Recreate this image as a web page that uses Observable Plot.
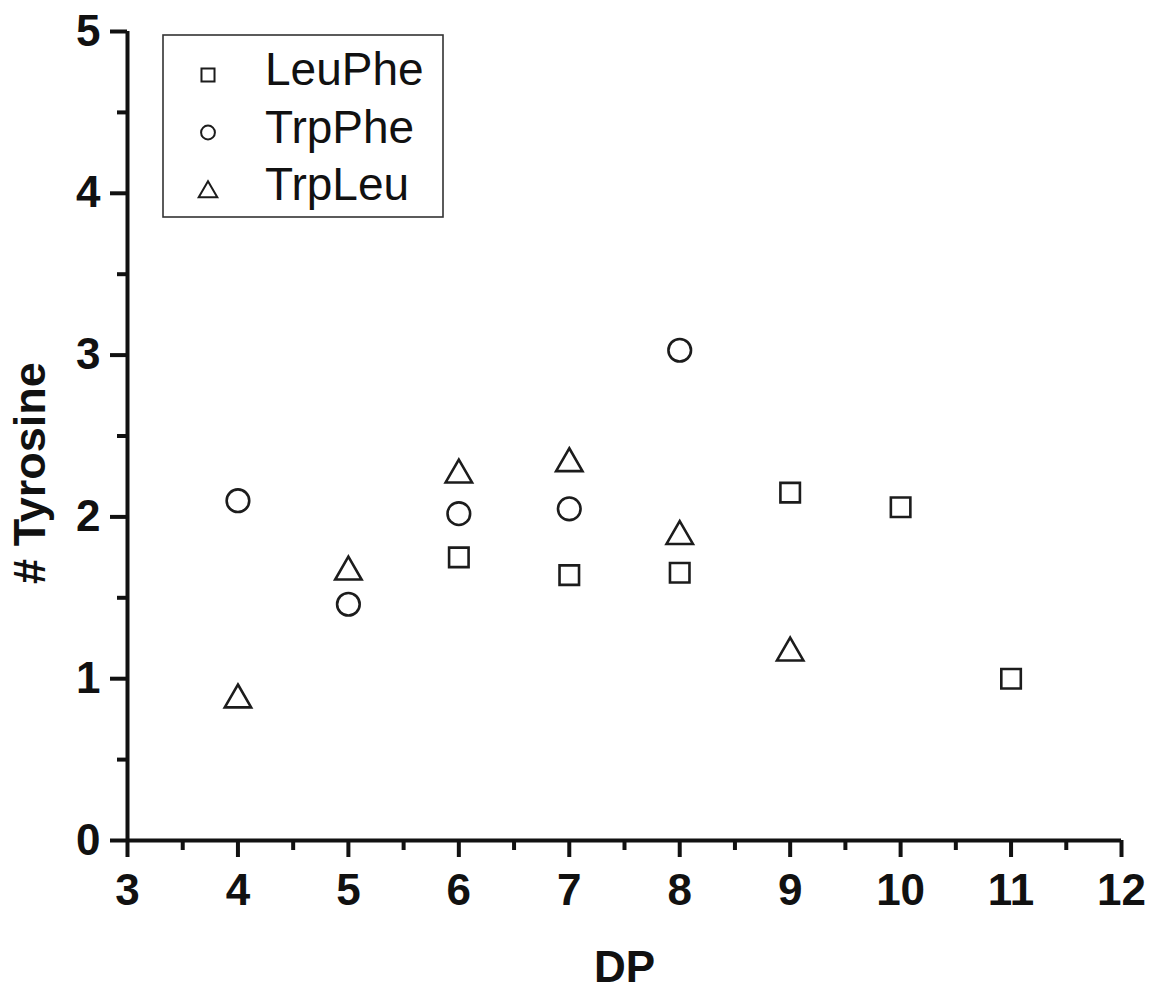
<!DOCTYPE html>
<html>
<head>
<meta charset="utf-8">
<script src="https://cdn.jsdelivr.net/npm/d3@7"></script>
<script src="https://cdn.jsdelivr.net/npm/@observablehq/plot@0.6"></script>
<style>
  html, body { margin: 0; padding: 0; background: #fff; }
  #chart { width: 1158px; height: 1000px; }
</style>
</head>
<body>
<div id="chart"></div>
<script>
// ---- data ----
const seriesNames = ["LeuPhe", "TrpPhe", "TrpLeu"];
const seriesSymbols = ["square", "circle", "triangle"];

const leuPheDP = [6, 7, 8, 9, 10, 11];
const leuPheTyr = [1.75, 1.64, 1.655, 2.15, 2.06, 1.00];

const trpPheDP = [4, 5, 6, 7, 8];
const trpPheTyr = [2.10, 1.46, 2.02, 2.05, 3.03];

const trpLeuDP = [4, 5, 6, 7, 8, 9];
const trpLeuTyr = [0.87, 1.66, 2.26, 2.33, 1.88, 1.16];

const xTicks = [3, 4, 5, 6, 7, 8, 9, 10, 11, 12];
const xMinorTicks = [3.5, 4.5, 5.5, 6.5, 7.5, 8.5, 9.5, 10.5, 11.5];
const yTicks = [0, 1, 2, 3, 4, 5];
const yMinorTicks = [0.5, 1.5, 2.5, 3.5, 4.5];

const xLabel = "DP";
const yLabel = "# Tyrosine";

// ---- build table ----
const rows = [
  ...leuPheDP.map((x, i) => ({series: "LeuPhe", dp: x, tyr: leuPheTyr[i]})),
  ...trpPheDP.map((x, i) => ({series: "TrpPhe", dp: x, tyr: trpPheTyr[i]})),
  ...trpLeuDP.map((x, i) => ({series: "TrpLeu", dp: x, tyr: trpLeuTyr[i]}))
];

const ink = "#111";
const markInk = "#1c1c1c";
const symbolR = {LeuPhe: 11, TrpPhe: 11.3, TrpLeu: 9.8};

const fontFamily = "'Liberation Sans', Arial, Helvetica, sans-serif";

const chart = Plot.plot({
  width: 1158,
  height: 1000,
  marginLeft: 127,
  marginRight: 37,
  marginTop: 31,
  marginBottom: 160,
  style: {fontFamily, background: "#fff", overflow: "visible"},
  x: {domain: [3, 12], label: null},
  y: {domain: [0, 5], label: null},
  marks: [
    // minor ticks
    Plot.axisX({ticks: xMinorTicks, tickSize: 10, text: null, stroke: ink, strokeWidth: 4, label: null}),
    Plot.axisY({ticks: yMinorTicks, tickSize: 10, text: null, stroke: ink, strokeWidth: 4, label: null}),
    // major ticks + labels
    Plot.axisX({ticks: xTicks, tickSize: 17, tickPadding: 16, tickFormat: d3.format("d"),
      fontSize: 44, fontWeight: "bold", color: ink, strokeWidth: 4, label: null}),
    Plot.axisY({ticks: yTicks, tickSize: 17, tickPadding: 10, tickFormat: d3.format("d"),
      fontSize: 44, fontWeight: "bold", color: ink, strokeWidth: 4, label: null}),
    // axis lines
    Plot.ruleY([0], {stroke: ink, strokeWidth: 4}),
    Plot.ruleX([3], {stroke: ink, strokeWidth: 4}),
    // x axis title
    Plot.text([xLabel], {frameAnchor: "bottom", dy: 127, fontSize: 44, fontWeight: "bold",
      lineAnchor: "middle", fill: ink}),
    // data
    ...seriesNames.map((s, i) => Plot.dot(rows.filter(d => d.series === s), {
      x: "dp", y: "tyr", symbol: () => seriesSymbols[i], r: symbolR[s],
      stroke: markInk, strokeWidth: 2.6, fill: "none"
    }))
  ],
  symbol: {type: "identity"}
});

document.getElementById("chart").appendChild(chart);

const svg = d3.select(chart);

// ---- y axis title (rotated, placed like the reference) ----
svg.append("text")
  .attr("transform", "translate(45,473) rotate(-90)")
  .attr("text-anchor", "middle")
  .attr("font-size", 45).attr("font-weight", "bold")
  .attr("font-family", fontFamily).attr("fill", ink)
  .text(yLabel);

// ---- legend (inside the plot, upper left) ----
const lg = svg.append("g").attr("transform", "translate(163,35)");
lg.append("rect")
  .attr("x", 0).attr("y", 0).attr("width", 280).attr("height", 182)
  .attr("fill", "#fff").attr("stroke", "#333").attr("stroke-width", 1.6);
const legendSymbolSize = {square: 170, circle: 150, triangle: 150};
const symMap = {square: d3.symbolSquare, circle: d3.symbolCircle, triangle: d3.symbolTriangle};
seriesNames.forEach((s, i) => {
  const cy = 40 + i * 57.5;
  const sym = seriesSymbols[i];
  lg.append("path")
    .attr("d", d3.symbol(symMap[sym], legendSymbolSize[sym])())
    .attr("transform", `translate(45,${cy + (sym === "triangle" ? 2 : 0)})`)
    .attr("fill", "none").attr("stroke", markInk).attr("stroke-width", 2);
  lg.append("text")
    .attr("x", 102).attr("y", cy + 10)
    .attr("text-anchor", "start")
    .attr("font-size", 46).attr("font-family", fontFamily)
    .attr("fill", ink)
    .text(s);
});
</script>
</body>
</html>
